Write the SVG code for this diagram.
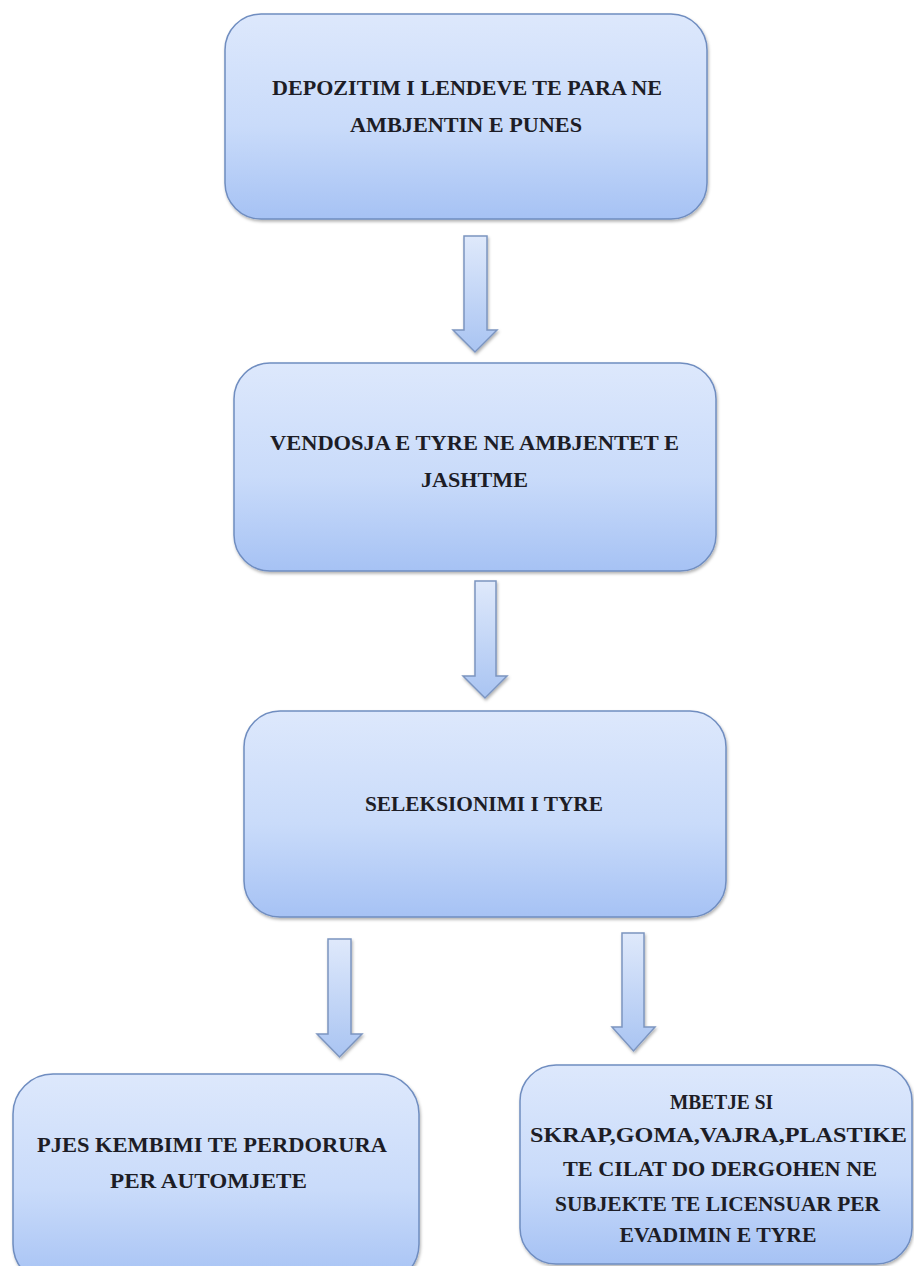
<svg xmlns="http://www.w3.org/2000/svg" width="914" height="1266" viewBox="0 0 914 1266">
  <style>
    .box { fill: url(#boxGrad); stroke: #6f8dc0; stroke-width: 1.5; filter: url(#shadow); }
    .arrow { fill: url(#arrowGrad); stroke: #7c95c0; stroke-width: 1.5; stroke-linejoin: miter; filter: url(#shadow); }
    .lbl { font-family: "Liberation Serif", "DejaVu Serif", serif; font-weight: bold; font-size: 21px; fill: #1d1d26; text-anchor: middle; }
    .sm { font-size: 20px; }
  </style>
  <defs>
    <linearGradient id="boxGrad" x1="0" y1="0" x2="0" y2="1">
      <stop offset="0" stop-color="#dde8fc"/>
      <stop offset="0.55" stop-color="#c9dbfa"/>
      <stop offset="1" stop-color="#a6c2f4"/>
    </linearGradient>
    <linearGradient id="arrowGrad" x1="0" y1="0" x2="0" y2="1">
      <stop offset="0" stop-color="#dfe9fb"/>
      <stop offset="1" stop-color="#a9c4f2"/>
    </linearGradient>
    <filter id="shadow" x="-10%" y="-10%" width="120%" height="125%">
      <feDropShadow dx="1" dy="2" stdDeviation="1.5" flood-color="#000" flood-opacity="0.3"/>
    </filter>
  </defs>

  <g id="connectors">
    <path class="arrow" d="M464,236 H487 V330 H497 L475,352 L453,330 H464 Z"/>
    <path class="arrow" d="M475,581 H496 V676 H507 L485,698 L463,676 H475 Z"/>
    <path class="arrow" d="M328,939 H351 V1034 H362 L339.5,1057 L317,1034 H328 Z"/>
    <path class="arrow" d="M622,933 H644 V1027 H655 L633.5,1051 L612,1027 H622 Z"/>
  </g>

  <g id="node1">
    <rect class="box" x="225" y="14" width="482" height="205" rx="36" ry="36"/>
    <text class="lbl" x="467" y="95" textLength="390" lengthAdjust="spacingAndGlyphs">DEPOZITIM I LENDEVE TE PARA NE</text>
    <text class="lbl" x="466" y="132" textLength="232" lengthAdjust="spacingAndGlyphs">AMBJENTIN E PUNES</text>
  </g>

  <g id="node2">
    <rect class="box" x="234" y="363" width="482" height="208" rx="36" ry="36"/>
    <text class="lbl" x="474.5" y="450" textLength="409" lengthAdjust="spacingAndGlyphs">VENDOSJA E TYRE NE AMBJENTET E</text>
    <text class="lbl" x="474.5" y="487" textLength="107" lengthAdjust="spacingAndGlyphs">JASHTME</text>
  </g>

  <g id="node3">
    <rect class="box" x="244" y="711" width="482" height="206" rx="36" ry="36"/>
    <text class="lbl" x="484" y="811" textLength="238" lengthAdjust="spacingAndGlyphs">SELEKSIONIMI I TYRE</text>
  </g>

  <g id="node4">
    <rect class="box" x="13" y="1074" width="406" height="210" rx="40" ry="40"/>
    <text class="lbl" x="212" y="1152" textLength="350" lengthAdjust="spacingAndGlyphs">PJES KEMBIMI TE PERDORURA</text>
    <text class="lbl" x="208.5" y="1188" textLength="197" lengthAdjust="spacingAndGlyphs">PER AUTOMJETE</text>
  </g>

  <g id="node5">
    <rect class="box" x="520" y="1065" width="392" height="199" rx="36" ry="36"/>
    <text class="lbl sm" x="721.5" y="1109" textLength="103" lengthAdjust="spacingAndGlyphs">MBETJE SI</text>
    <text class="lbl sm" x="718.5" y="1142" textLength="377" lengthAdjust="spacingAndGlyphs">SKRAP,GOMA,VAJRA,PLASTIKE</text>
    <text class="lbl sm" x="720" y="1176" textLength="314" lengthAdjust="spacingAndGlyphs">TE CILAT DO DERGOHEN NE</text>
    <text class="lbl sm" x="717.5" y="1211" textLength="325" lengthAdjust="spacingAndGlyphs">SUBJEKTE TE LICENSUAR PER</text>
    <text class="lbl sm" x="718" y="1242" textLength="197" lengthAdjust="spacingAndGlyphs">EVADIMIN E TYRE</text>
  </g>
</svg>
